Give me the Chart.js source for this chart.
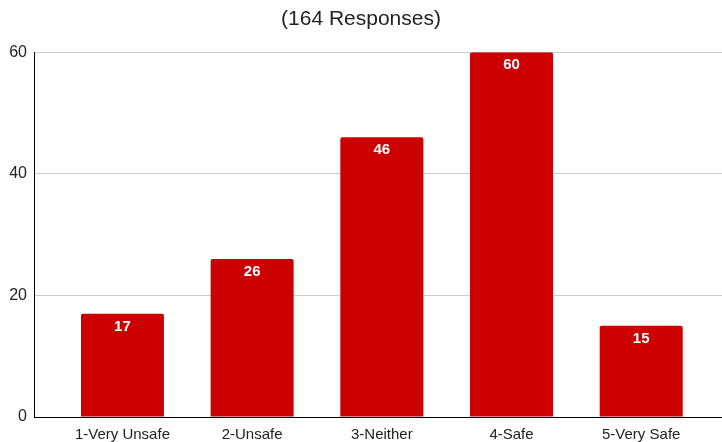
<!DOCTYPE html>
<html>
<head>
<meta charset="utf-8">
<script src="https://cdn.jsdelivr.net/npm/chart.js@4/dist/chart.umd.min.js"></script>
<style>
  html, body { margin: 0; padding: 0; background: #fff; }
  canvas { display: block; }
</style>
</head>
<body>
<canvas id="chart" width="722" height="442"></canvas>
<script>
const categories = ["1-Very Unsafe", "2-Unsafe", "3-Neither", "4-Safe", "5-Very Safe"];
const responses = [17, 26, 46, 60, 15];
const yTicks = [0, 20, 40, 60];

const barRed = "#cc0000";
const textColor = "#222222";
const fontFamily = "'Liberation Sans', Arial, sans-serif";

// white value labels just inside the top of each bar
const barLabels = {
  id: "barLabels",
  afterDatasetsDraw(chart) {
    const ctx = chart.ctx;
    const meta = chart.getDatasetMeta(0);
    ctx.save();
    ctx.fillStyle = "#ffffff";
    ctx.font = "bold 15px " + fontFamily;
    ctx.textAlign = "center";
    ctx.textBaseline = "middle";
    meta.data.forEach((bar, i) => {
      ctx.fillText(String(responses[i]), bar.x, bar.y + 13);
    });
    ctx.restore();
  },
};

const chart = new Chart(document.getElementById("chart"), {
  type: "bar",
  data: {
    datasets: [
      {
        data: responses.map((v, i) => ({ x: i, y: v })),
        backgroundColor: barRed,
        borderRadius: 2,
        borderSkipped: "bottom",
        barPercentage: 0.64,
        categoryPercentage: 1,
      },
    ],
  },
  options: {
    responsive: false,
    animation: false,
    layout: { padding: 0 },
    plugins: {
      legend: { display: false },
      tooltip: { enabled: false },
      title: {
        display: true,
        text: "(164 Responses)",
        color: textColor,
        font: { family: fontFamily, size: 21, weight: "normal" },
        padding: { top: 7, bottom: 20 },
      },
    },
    scales: {
      x: {
        type: "linear",
        offset: false,
        min: -0.682,
        max: 4.623,
        grid: { display: false },
        border: { display: true, color: "#000000", width: 1 },
        afterBuildTicks(scale) {
          scale.ticks = categories.map((_, i) => ({ value: i }));
        },
        afterFit(scale) {
          scale.height = 25;
        },
        ticks: {
          color: textColor,
          font: { family: fontFamily, size: 15 },
          padding: 1,
          maxRotation: 0,
          autoSkip: false,
          callback: (value) => categories[value],
        },
      },
      y: {
        min: 0,
        max: 60,
        afterBuildTicks(scale) {
          scale.ticks = yTicks.map((v) => ({ value: v }));
        },
        afterFit(scale) {
          scale.width = 34;
        },
        grid: { color: "#cccccc", drawTicks: false },
        border: { display: true, color: "#000000", width: 1 },
        ticks: {
          color: textColor,
          font: { family: fontFamily, size: 16 },
          padding: 7,
        },
      },
    },
  },
  plugins: [barLabels],
});
</script>
</body>
</html>
